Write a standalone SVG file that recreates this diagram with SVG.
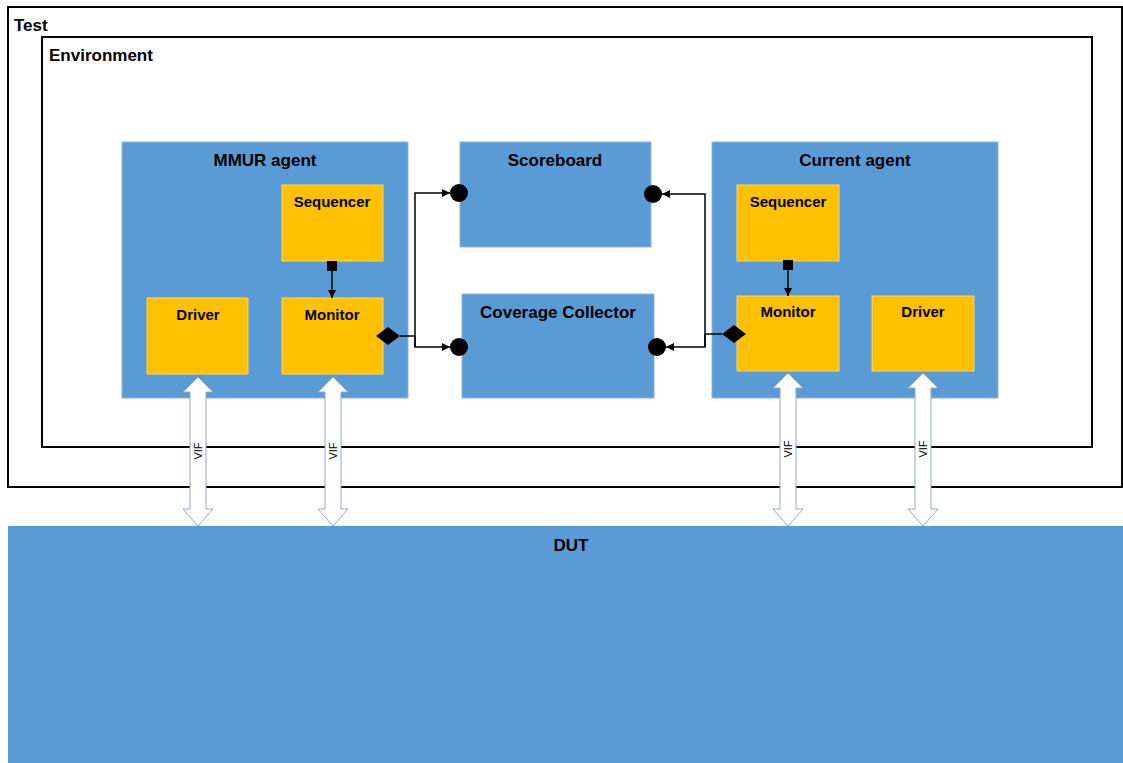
<svg xmlns="http://www.w3.org/2000/svg" width="1123" height="763" viewBox="0 0 1123 763">
<defs>
<style>
.frame{fill:#fff;stroke:#000;stroke-width:2}
.blue{fill:#5B9BD5;stroke:#8FB4DE;stroke-width:1}
.org{fill:#FFC000;stroke:#FFD666;stroke-width:1}
.t{font-family:"Liberation Sans",Arial,sans-serif;font-weight:bold;fill:#000}
.big{font-size:17px}
.sm{font-size:15px}
.c{text-anchor:middle}
.wire{fill:none;stroke:#000;stroke-width:1.5}
.dot{fill:#000}
.vif{fill:#fff;stroke:#8EA9C8;stroke-width:1}
.vt{font-family:"Liberation Sans",Arial,sans-serif;font-size:11px;fill:#000;text-anchor:middle}
</style>
<marker id="ah" viewBox="0 0 10 10" refX="10" refY="5" markerWidth="8" markerHeight="8" markerUnits="userSpaceOnUse" orient="auto">
<path d="M0,0 L10,5 L0,10 z" fill="#000"/>
</marker>
</defs>
<rect width="1123" height="763" fill="#fff"/>

<g id="test">
<rect class="frame" x="8" y="7" width="1114" height="480"/>
<text class="t big" x="14" y="31">Test</text>
</g>
<g id="environment">
<rect class="frame" x="42" y="37" width="1050" height="410"/>
<text class="t big" x="49" y="61">Environment</text>
</g>

<g id="dut">
<rect x="8" y="526" width="1115" height="237" fill="#5B9BD5"/>
<text class="t big c" x="571" y="551">DUT</text>
</g>

<g id="mmur-agent">
<rect class="blue" x="122" y="142" width="286" height="256"/>
<text class="t big c" x="265" y="166">MMUR agent</text>
</g>
<g id="mmur-sequencer">
<rect class="org" x="282" y="185" width="101" height="76"/>
<text class="t sm c" x="332" y="207">Sequencer</text>
</g>
<g id="mmur-monitor">
<rect class="org" x="282" y="298" width="101" height="76"/>
<text class="t sm c" x="332" y="320">Monitor</text>
</g>
<g id="mmur-driver">
<rect class="org" x="147" y="298" width="101" height="76"/>
<text class="t sm c" x="198" y="320">Driver</text>
</g>

<g id="scoreboard">
<rect class="blue" x="460" y="142" width="191" height="105"/>
<text class="t big c" x="555" y="166">Scoreboard</text>
</g>
<g id="coverage-collector">
<rect class="blue" x="462" y="294" width="192" height="104"/>
<text class="t big c" x="558" y="318">Coverage Collector</text>
</g>

<g id="current-agent">
<rect class="blue" x="712" y="142" width="286" height="256"/>
<text class="t big c" x="855" y="166">Current agent</text>
</g>
<g id="current-sequencer">
<rect class="org" x="737" y="185" width="102" height="76"/>
<text class="t sm c" x="788" y="207">Sequencer</text>
</g>
<g id="current-monitor">
<rect class="org" x="737" y="296" width="102" height="75"/>
<text class="t sm c" x="788" y="317">Monitor</text>
</g>
<g id="current-driver">
<rect class="org" x="872" y="296" width="102" height="75"/>
<text class="t sm c" x="923" y="317">Driver</text>
</g>

<g id="connectors">
<!-- sequencer to monitor -->
<rect class="dot" x="327" y="261" width="10" height="10"/>
<line class="wire" x1="332" y1="271" x2="332" y2="298" marker-end="url(#ah)"/>
<rect class="dot" x="783" y="260" width="10" height="10"/>
<line class="wire" x1="788" y1="270" x2="788" y2="296" marker-end="url(#ah)"/>

<!-- MMUR monitor analysis port -->
<path class="dot" d="M376,336 L388,327 L400,336 L388,345 z"/>
<polyline class="wire" points="400,336 415,336"/>
<polyline class="wire" points="415,347 415,193 450,193" marker-end="url(#ah)"/>
<polyline class="wire" points="415,336 415,347 450,347" marker-end="url(#ah)"/>
<circle class="dot" cx="459" cy="193" r="9"/>
<circle class="dot" cx="459" cy="347" r="9"/>

<!-- Current monitor analysis port -->
<path class="dot" d="M722,334 L734,325 L746,334 L734,343 z"/>
<polyline class="wire" points="722,334 705,334"/>
<polyline class="wire" points="705,347 705,194 662,194" marker-end="url(#ah)"/>
<polyline class="wire" points="705,334 705,347 666,347" marker-end="url(#ah)"/>
<circle class="dot" cx="653" cy="194" r="9"/>
<circle class="dot" cx="657" cy="347" r="9"/>

<!-- VIF double arrows -->
<path class="vif" d="M198,377 L213,392 L206,392 L206,509 L213,509 L198,526 L183,509 L190,509 L190,392 L183,392 z"/>
<text class="vt" transform="translate(202,451) rotate(-90)">VIF</text>
<path class="vif" d="M333,377 L348,392 L341,392 L341,509 L348,509 L333,526 L318,509 L325,509 L325,392 L318,392 z"/>
<text class="vt" transform="translate(337,451) rotate(-90)">VIF</text>
<path class="vif" d="M788,373 L803,388 L796,388 L796,509 L803,509 L788,526 L773,509 L780,509 L780,388 L773,388 z"/>
<text class="vt" transform="translate(792,449) rotate(-90)">VIF</text>
<path class="vif" d="M923,373 L938,388 L931,388 L931,509 L938,509 L923,526 L908,509 L915,509 L915,388 L908,388 z"/>
<text class="vt" transform="translate(927,449) rotate(-90)">VIF</text>
</g>
</svg>
